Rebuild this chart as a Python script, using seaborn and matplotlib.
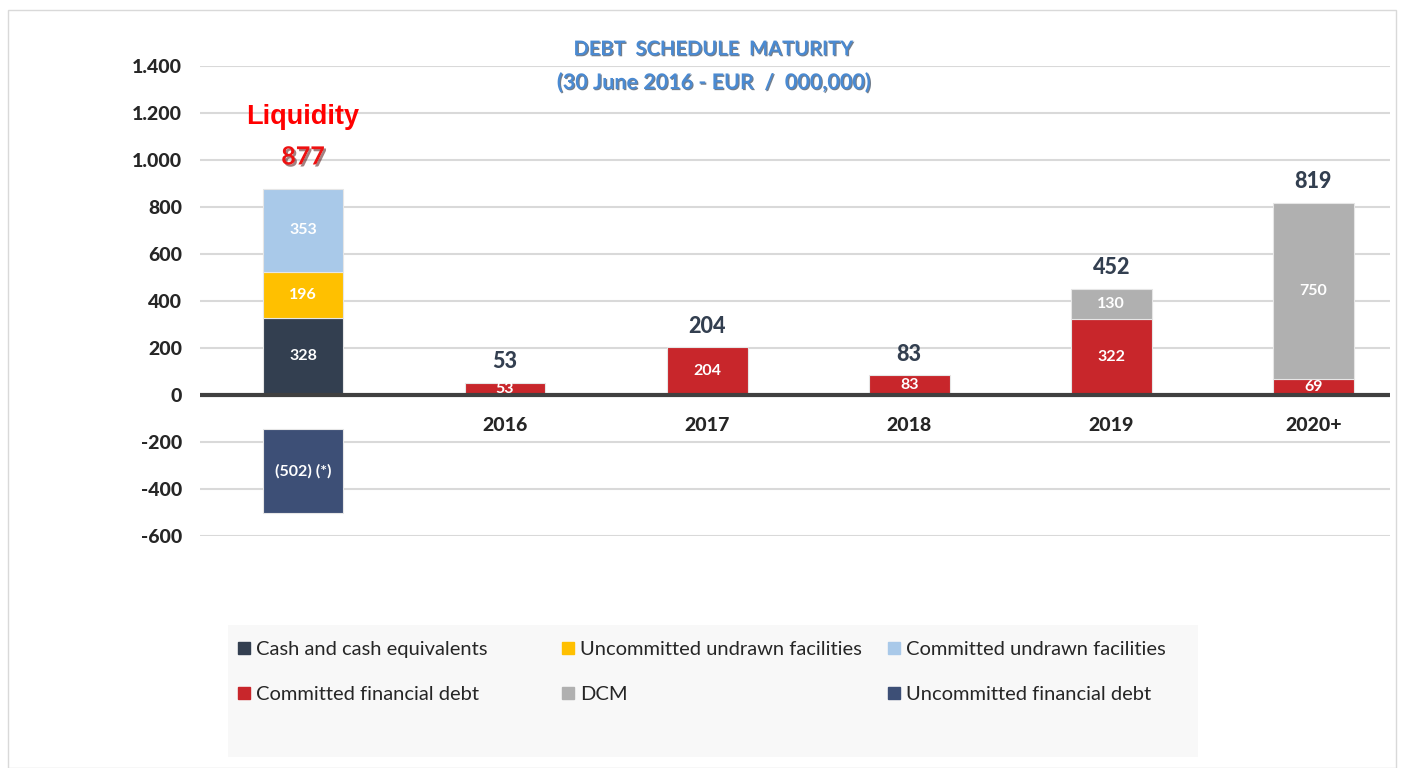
import numpy as np
import pandas as pd
import seaborn as sns
import matplotlib.pyplot as plt
import matplotlib.patheffects as pe
from matplotlib.patches import Rectangle, Patch

categories = ['Liquidity', '2016', '2017', '2018', '2019', '2020+']
cash = [328, 0, 0, 0, 0, 0]
uncommitted_undrawn = [196, 0, 0, 0, 0, 0]
committed_undrawn = [353, 0, 0, 0, 0, 0]
committed_debt = [0, 53, 204, 83, 322, 69]
dcm = [0, 0, 0, 0, 130, 750]
uncommitted_debt = [-502, 0, 0, 0, 0, 0]
year_labels = ['', '2016', '2017', '2018', '2019', '2020+']

sns.set_style("white")
plt.rcParams['font.family'] = ['Lato', 'DejaVu Sans']

fig = plt.figure(figsize=(14.04, 7.68), dpi=100)
ax = fig.add_axes([200 / 1404, 232 / 768, 1190 / 1404, 470 / 768])

series = [
    ('Cash and cash equivalents', cash, '#333f50'),
    ('Uncommitted undrawn facilities', uncommitted_undrawn, '#ffc000'),
    ('Committed undrawn facilities', committed_undrawn, '#a9c9e9'),
    ('Committed financial debt', committed_debt, '#c8262b'),
    ('DCM', dcm, '#b0b0b0'),
]

base = np.zeros(len(categories))
for name, vals, col in series:
    vals = np.array(vals, dtype=float)
    keep = vals > 0
    sub = pd.DataFrame({'cat': np.array(categories)[keep], 'val': vals[keep]})
    sns.barplot(data=sub, x='cat', y='val', order=categories, color=col,
                width=0.4, errorbar=None, bottom=base[keep], saturation=1,
                edgecolor='#e6e6e6', linewidth=0.8, ax=ax, zorder=3)
    for i in np.where(keep)[0]:
        ax.text(i, base[i] + vals[i] / 2, f"{vals[i]:.0f}", ha='center', va='center',
                color='white', fontsize=11.5, fontweight='bold', zorder=5)
    base = base + vals

# uncommitted financial debt sits below the category label band
axis_band = 145
neg = np.array(uncommitted_debt, dtype=float)
keep = neg < 0
sub = pd.DataFrame({'cat': np.array(categories)[keep], 'val': neg[keep] + axis_band})
sns.barplot(data=sub, x='cat', y='val', order=categories, color='#3d4f76',
            width=0.4, errorbar=None, bottom=-axis_band, saturation=1,
            edgecolor='#e6e6e6', linewidth=0.8, ax=ax, zorder=3)
for i in np.where(keep)[0]:
    ax.text(i, (neg[i] - axis_band) / 2, f"({-neg[i]:.0f}) (*)", ha='center', va='center',
            color='white', fontsize=11.5, fontweight='bold', zorder=5)

# totals
for i, tot in enumerate(base):
    if i == 0:
        ax.annotate(f"{tot:.0f}", (i, tot), xytext=(0, 23), textcoords='offset points',
                    ha='center', va='center', color='#ee1111', fontsize=18, fontweight='bold',
                    path_effects=[pe.SimplePatchShadow(offset=(1.5, -1.5), alpha=0.5), pe.Normal()])
        ax.annotate('Liquidity', (i, tot), xytext=(0, 52), textcoords='offset points',
                    ha='center', va='center', color='#ff0000', fontsize=19.5, fontweight='bold',
                    family=['Liberation Sans', 'DejaVu Sans'])
    else:
        ax.annotate(f"{tot:.0f}", (i, tot), xytext=(0, 15), textcoords='offset points',
                    ha='center', va='center', color='#333f50', fontsize=15.5, fontweight='black')

for i, lab in enumerate(year_labels):
    if lab:
        ax.annotate(lab, (i, 0), xytext=(0, -22), textcoords='offset points',
                    ha='center', va='center', color='#262626', fontsize=14, fontweight='black')

ax.axhline(0, color='#404040', lw=3, zorder=4)
ax.set_ylim(-600, 1400)
ax.set_xlim(-0.51, 5.38)
ticks = np.arange(-600, 1401, 200)
ax.set_yticks(ticks)
ax.set_yticklabels([f"{t:,}".replace(',', '.') for t in ticks], fontsize=14,
                   fontweight='black', color='#262626')
ax.tick_params(axis='y', length=0, pad=13)
ax.tick_params(axis='x', labelbottom=False, length=0)
ax.set_xlabel('')
ax.set_ylabel('')
ax.grid(axis='y', color='#d9d9d9', lw=1.5, zorder=0)
ax.set_axisbelow(True)
for s in ax.spines.values():
    s.set_visible(False)

fig.text(0.508, 0.936, 'DEBT  SCHEDULE  MATURITY', ha='center', va='center',
         fontsize=14.5, fontweight='bold', color='#4a8ad2',
         path_effects=[pe.SimplePatchShadow(offset=(0.8, -0.8), alpha=0.6), pe.Normal()])
fig.text(0.508, 0.893, '(30 June 2016 - EUR  /  000,000)', ha='center', va='center',
         fontsize=15.5, fontweight='bold', color='#4a8ad2',
         path_effects=[pe.SimplePatchShadow(offset=(0.8, -0.8), alpha=0.6), pe.Normal()])

# legend box
fig.patches.append(Rectangle((228 / 1404, 11 / 768), 970 / 1404, 132 / 768,
                             transform=fig.transFigure, facecolor='#f8f8f8',
                             edgecolor='none', zorder=0))
fig.patches.append(Rectangle((8 / 1404, 0), 1388 / 1404, 758 / 768,
                             transform=fig.transFigure, facecolor='none',
                             edgecolor='#d9d9d9', lw=1, zorder=0))

handles = [Patch(color=c, label=n) for n, _, c in series]
handles.append(Patch(color='#3d4f76', label='Uncommitted financial debt'))
columns = [[handles[0], handles[3]], [handles[1], handles[4]], [handles[2], handles[5]]]
for x0, col in zip([238, 562, 888], columns):
    leg = fig.legend(handles=col, loc='upper left', bbox_to_anchor=(x0 / 1404, 1 - 641 / 768),
                     frameon=False, fontsize=14.5, handlelength=0.6, handleheight=0.6,
                     handletextpad=0.3, labelspacing=1.4, borderpad=0, borderaxespad=0)
    for t in leg.get_texts():
        t.set_color('#262626')

plt.savefig('out.png', dpi=100)
